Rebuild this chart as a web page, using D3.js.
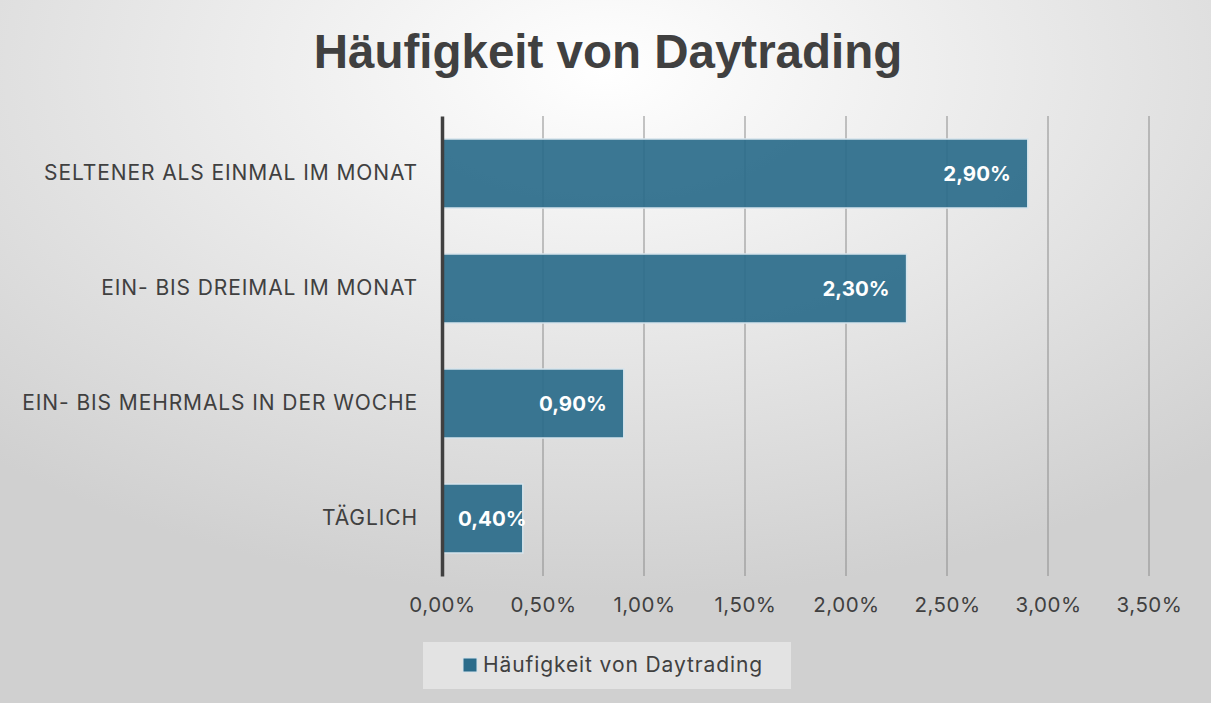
<!DOCTYPE html>
<html>
<head>
<meta charset="utf-8">
<script src="https://cdn.jsdelivr.net/npm/d3@7"></script>
<style>
  body { margin: 0; }
  svg { display: block; }
</style>
</head>
<body>
<div id="chart"></div>
<script>
var width = 1211,
    height = 703;

var categories = ["SELTENER ALS EINMAL IM MONAT", "EIN- BIS DREIMAL IM MONAT", "EIN- BIS MEHRMALS IN DER WOCHE", "TÄGLICH"];
var values = [2.9, 2.3, 0.9, 0.4];
var ticks = [0, 0.5, 1, 1.5, 2, 2.5, 3, 3.5];
var seriesName = "Häufigkeit von Daytrading";
var title = "Häufigkeit von Daytrading";

var margin = {top: 116, left: 442, right: 62, bottom: 127};

var svg = d3.select("#chart").append("svg")
    .attr("width", width)
    .attr("height", height);

// background gradient
var defs = svg.append("defs");
var grad = defs.append("radialGradient")
    .attr("id", "bg")
    .attr("cx", "50%").attr("cy", "10%")
    .attr("r", "75%");
grad.append("stop").attr("offset", "0%").attr("stop-color", "#ffffff");
grad.append("stop").attr("offset", "100%").attr("stop-color", "#d0d0d0");
svg.append("rect")
    .attr("width", width)
    .attr("height", height)
    .attr("fill", "url(#bg)");

var fmt = function(v) { return d3.format(".2f")(v).replace(".", ",") + "%"; };

var x = d3.scaleLinear()
    .domain([0, 3.5])
    .range([margin.left, width - margin.right]);

var y = d3.scaleBand()
    .domain(categories)
    .range([margin.top, height - margin.bottom])
    .paddingInner(0.4)
    .paddingOuter(0.2);

// title
svg.append("text")
    .attr("x", 608)
    .attr("y", 68)
    .attr("text-anchor", "middle")
    .attr("fill", "#404040")
    .style("font-family", "'Liberation Sans Narrow', 'Liberation Sans', Arial, sans-serif")
    .style("font-weight", "bold")
    .style("font-size", "47.5px")
    .text(title);

// gridlines
svg.append("g")
  .selectAll("line")
    .data(ticks.slice(1))
  .enter().append("line")
    .attr("x1", function(d) { return x(d); })
    .attr("x2", function(d) { return x(d); })
    .attr("y1", margin.top)
    .attr("y2", height - margin.bottom)
    .attr("stroke", "#8c8c8c")
    .attr("stroke-opacity", 0.5)
    .attr("stroke-width", 2);

// x axis labels
var xAxis = d3.axisBottom(x)
    .tickValues(ticks)
    .tickFormat(fmt)
    .tickSize(0)
    .tickPadding(0);
var gx = svg.append("g")
    .attr("transform", "translate(0," + (height - margin.bottom + 21) + ")")
    .call(xAxis);
gx.select(".domain").remove();
gx.selectAll("text")
    .attr("fill", "#404040")
    .style("font-family", "Inter, 'Noto Sans', sans-serif")
    .style("font-size", "20.5px")
    .style("letter-spacing", "0.5px");

// bars
svg.append("g")
  .selectAll("rect")
    .data(values)
  .enter().append("rect")
    .attr("x", x(0))
    .attr("y", function(d, i) { return y(categories[i]); })
    .attr("width", function(d) { return x(d) - x(0); })
    .attr("height", y.bandwidth())
    .attr("fill", "#2a6b8a")
    .attr("fill-opacity", 0.92)
    .attr("stroke", "#d6e4ec")
    .attr("stroke-width", 1.5);

// y axis
var yAxis = d3.axisLeft(y).tickSize(0).tickPadding(24);
var gy = svg.append("g")
    .attr("transform", "translate(" + x(0) + ",0)")
    .call(yAxis);
gy.select(".domain")
    .attr("stroke", "#404040")
    .attr("stroke-width", 3.5);
gy.selectAll("text")
    .attr("fill", "#404040")
    .style("font-family", "Inter, 'Noto Sans', sans-serif")
    .style("font-size", "21px")
    .style("letter-spacing", "0.9px");

// data labels
svg.append("g")
  .selectAll("text")
    .data(values)
  .enter().append("text")
    .attr("y", function(d, i) { return y(categories[i]) + y.bandwidth() / 2; })
    .attr("dy", "0.35em")
    .attr("text-anchor", "end")
    .attr("fill", "#ffffff")
    .style("font-family", "Inter, 'Noto Sans', sans-serif")
    .style("font-weight", "bold")
    .style("font-size", "20.5px")
    .text(fmt)
    .attr("x", function(d) {
      var w = this.getComputedTextLength();
      return Math.max(x(d) - 17, x(0) + 16 + w);
    });

// legend
var legend = svg.append("g");
legend.append("rect")
    .attr("x", 423)
    .attr("y", 642)
    .attr("width", 368)
    .attr("height", 47)
    .attr("fill", "#e3e3e3");
legend.append("rect")
    .attr("x", 463)
    .attr("y", 658)
    .attr("width", 14)
    .attr("height", 14)
    .attr("fill", "#2a6b8a")
    .attr("stroke", "#d6e4ec");
legend.append("text")
    .attr("x", 483)
    .attr("y", 665)
    .attr("dy", "0.35em")
    .attr("fill", "#404040")
    .style("font-family", "Inter, 'Noto Sans', sans-serif")
    .style("font-size", "21px")
    .style("letter-spacing", "0.9px")
    .text(seriesName);
</script>
</body>
</html>
